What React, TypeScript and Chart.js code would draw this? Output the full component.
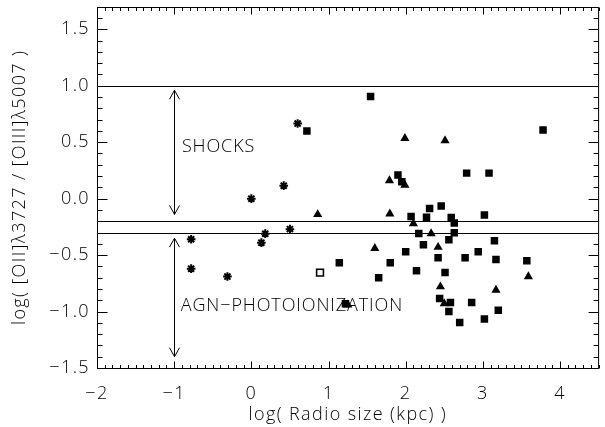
import React, { useEffect, useRef } from "react";
import { Chart, registerables } from "chart.js";

Chart.register(...registerables);

// ── Data ──────────────────────────────────────────────────────
// asterisks
const starX = [-0.78, -0.78, -0.31, 0.0, 0.13, 0.18, 0.42, 0.5, 0.6];
const starY = [-0.36, -0.62, -0.69, 0.0, -0.39, -0.31, 0.115, -0.27, 0.665];

// open square
const openX = [0.89];
const openY = [-0.655];

// filled squares
const squareX = [
  0.72, 1.545, 3.78, 1.9, 1.95, 2.79, 3.08, 2.31, 2.46, 2.07, 2.27, 2.59, 2.63,
  3.02, 2.17, 2.63, 2.56, 2.23, 3.15, 2.0, 2.42, 2.77, 2.94, 3.17, 3.57, 1.8,
  2.14, 2.51, 1.65, 2.44, 2.58, 2.855, 3.2, 2.56, 3.02, 2.7, 1.14, 1.22,
];
const squareY = [
  0.6, 0.905, 0.608, 0.21, 0.15, 0.226, 0.226, -0.088, -0.065, -0.159, -0.165,
  -0.168, -0.215, -0.144, -0.309, -0.303, -0.365, -0.408, -0.373, -0.47, -0.523,
  -0.523, -0.47, -0.54, -0.55, -0.567, -0.638, -0.655, -0.7, -0.885, -0.92,
  -0.92, -0.988, -1.0, -1.067, -1.096, -0.567, -0.93,
];

// filled triangles
const triX = [0.86, 1.6, 1.79, 1.99, 1.99, 2.51, 1.795, 2.1, 2.33, 2.42, 3.59, 2.45, 3.17, 2.5, 1.25];
const triY = [-0.14, -0.44, 0.16, 0.12, 0.535, 0.515, -0.135, -0.22, -0.31, -0.43, -0.69, -0.78, -0.81, -0.93, -0.94];

// horizontal reference levels and region arrows
const refLevels = [1.0, -0.2, -0.3];
const arrowX = [-1, -1];
const arrowTop = [0.96, -0.35];
const arrowBottom = [-0.14, -1.4];
const regionText = ["SHOCKS", "AGN\u2212PHOTOIONIZATION"];
const regionX = [-0.9, -0.915];
const regionY = [0.46, -0.95];

const xMin = -2, xMax = 4.5;
const yMin = -1.5, yMax = 1.7;

const FONT = "'Open Sans', 'DejaVu Sans', sans-serif";
const WEIGHT = "300";
const SIZE = 18;
const SPACING = "1.4px";

const pts = (xs: number[], ys: number[]) => xs.map((x, i) => ({ x, y: ys[i] }));
const minus = (s: string) => s.replace("-", "\u2212");

// wide Hershey-like lettering for every label the chart draws
const spacingPlugin = {
  id: "letterSpacing",
  beforeInit(chart: any) {
    chart.ctx.letterSpacing = SPACING;
  },
  beforeDraw(chart: any) {
    chart.ctx.letterSpacing = SPACING;
  },
};

// ── Frame, IDL-style inward ticks, lines, arrows, labels ──────
const framePlugin = {
  id: "idlFrame",
  beforeDatasetsDraw(chart: any) {
    const { ctx, chartArea: a, scales } = chart;
    const xs = scales.x, ys = scales.y;
    const seg = (x1: number, y1: number, x2: number, y2: number) => {
      ctx.beginPath();
      ctx.moveTo(x1, y1);
      ctx.lineTo(x2, y2);
      ctx.stroke();
    };
    ctx.save();
    ctx.strokeStyle = "#000";
    ctx.lineWidth = 1;

    refLevels.forEach((v) => {
      const py = Math.round(ys.getPixelForValue(v)) + 0.5;
      seg(a.left, py, a.right, py);
    });

    arrowX.forEach((xv, i) => {
      const px = Math.round(xs.getPixelForValue(xv)) + 0.5;
      const t = ys.getPixelForValue(arrowTop[i]);
      const b = ys.getPixelForValue(arrowBottom[i]);
      seg(px, t, px, b);
      seg(px - 5, t + 9, px, t);
      seg(px, t, px + 5, t + 9);
      seg(px - 5, b - 9, px, b);
      seg(px, b, px + 5, b - 9);
    });

    ctx.fillStyle = "#000";
    ctx.font = `${WEIGHT} ${SIZE}px ${FONT}`;
    ctx.letterSpacing = "0.9px";
    ctx.textBaseline = "middle";
    ctx.textAlign = "left";
    regionText.forEach((t, i) => {
      ctx.fillText(t, xs.getPixelForValue(regionX[i]), ys.getPixelForValue(regionY[i]));
    });

    // frame
    const L = Math.round(a.left) + 0.5, T = Math.round(a.top) + 0.5;
    const R = a.right, B = Math.round(a.bottom) + 0.5;
    seg(L, T, R, T);
    seg(L, B, R, B);
    seg(L, T, L, B);
    seg(R, T, R, B);

    // x ticks (step 0.1, major at integers)
    for (let i = 0; ; i++) {
      const v = xMin + i * 0.1;
      if (v > xMax + 1e-6) break;
      const major = Math.abs(v - Math.round(v)) < 1e-6;
      const len = major ? 7 : 3.5;
      const px = Math.round(xs.getPixelForValue(v)) + 0.5;
      seg(px, B, px, B - len);
      seg(px, T, px, T + len);
    }
    // y ticks (step 0.1, major at multiples of 0.5)
    for (let i = 0; ; i++) {
      const v = yMin + i * 0.1;
      if (v > yMax + 1e-6) break;
      const major = Math.abs(v * 2 - Math.round(v * 2)) < 1e-6;
      const len = major ? 10 : 5;
      const py = Math.round(ys.getPixelForValue(v)) + 0.5;
      seg(L, py, L + len, py);
      seg(R, py, R - len, py);
    }
    ctx.restore();
  },
};

const App: React.FC = () => {
  const canvasRef = useRef<HTMLCanvasElement>(null);

  useEffect(() => {
    document.body.style.margin = "0";
    document.body.style.overflow = "hidden";
    if (!canvasRef.current) return;

    const font = { family: FONT, size: SIZE, weight: WEIGHT as any };

    const chart = new Chart(canvasRef.current, {
      type: "scatter",
      data: {
        datasets: [
          {
            data: pts(starX, starY),
            pointStyle: "star",
            pointRadius: 4.3,
            borderWidth: 2,
            borderColor: "#000",
            backgroundColor: "#000",
          },
          {
            data: pts(openX, openY),
            pointStyle: "rect",
            pointRadius: 4.8,
            borderWidth: 1.6,
            borderColor: "#000",
            backgroundColor: "#fff",
          },
          {
            data: pts(squareX, squareY),
            pointStyle: "rect",
            pointRadius: 5.3,
            borderWidth: 0,
            backgroundColor: "#000",
          },
          {
            data: pts(triX, triY),
            pointStyle: "triangle",
            pointRadius: 5.3,
            borderWidth: 0,
            backgroundColor: "#000",
          },
        ],
      },
      options: {
        responsive: true,
        maintainAspectRatio: false,
        animation: false,
        events: [],
        layout: { padding: { top: 6.7, right: -2.6, bottom: 0, left: 0 } },
        plugins: { legend: { display: false }, tooltip: { enabled: false } },
        scales: {
          x: {
            type: "linear",
            min: xMin,
            max: xMax,
            grid: { display: false, drawTicks: false },
            border: { display: false },
            ticks: {
              stepSize: 1,
              includeBounds: false,
              padding: 15,
              color: "#000",
              font,
              callback: (v: any) => minus(String(v)),
            },
            title: {
              display: true,
              text: "log( Radio size (kpc) )",
              color: "#000",
              font,
              padding: { top: 0, bottom: 1 },
            },
            afterFit: (s: any) => {
              s.height = 59;
              s.paddingLeft = 0;
              s.paddingRight = 0;
            },
          },
          y: {
            type: "linear",
            min: yMin,
            max: yMax,
            grid: { display: false, drawTicks: false },
            border: { display: false },
            ticks: {
              stepSize: 0.5,
              includeBounds: false,
              padding: 7,
              color: "#000",
              font,
              callback: (v: any) => minus(Number(v).toFixed(1)),
            },
            title: {
              display: true,
              text: "log( [OII]\u03bb3727 / [OIII]\u03bb5007 )",
              color: "#000",
              font,
              padding: { top: 9, bottom: 0 },
            },
            afterFit: (s: any) => {
              s.width = 97;
              s.paddingTop = 0;
              s.paddingBottom = 0;
            },
          },
        },
      },
      plugins: [spacingPlugin, framePlugin],
    });

    return () => chart.destroy();
  }, []);

  return (
    <div style={{ width: 605, height: 427, position: "relative" }}>
      <canvas ref={canvasRef} />
    </div>
  );
};

export default App;
